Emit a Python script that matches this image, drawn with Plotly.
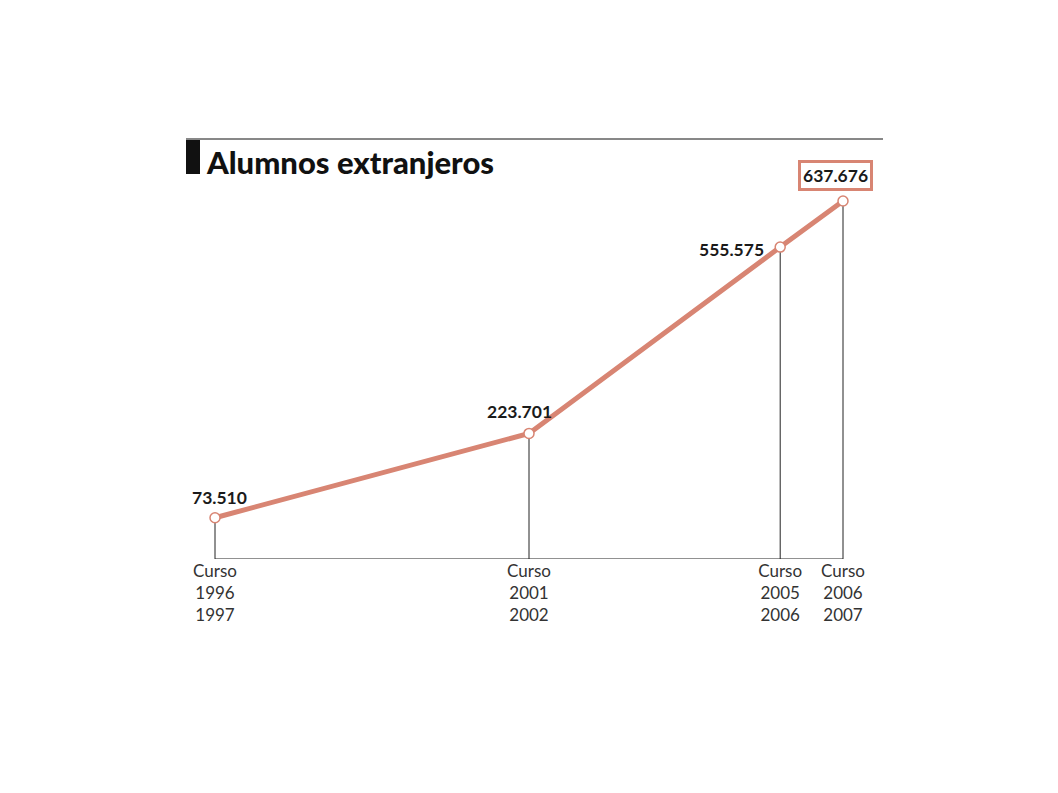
import plotly.graph_objects as go

years = [1996, 2001, 2005, 2006]
values = [73510, 223701, 555575, 637676]
value_labels = ["73.510", "223.701", "555.575", "637.676"]
tick_labels = ["Curso<br>1996<br>1997", "Curso<br>2001<br>2002", "Curso<br>2005<br>2006", "Curso<br>2006<br>2007"]
title = "Alumnos extranjeros"

SALMON = "#d88573"
FONT = "Lato"

fig = go.Figure()

# drop lines from each point to the baseline
dx, dy = [], []
for x, y in zip(years, values):
    dx += [x, x, None]
    dy += [0, y, None]
fig.add_trace(go.Scatter(x=dx, y=dy, mode="lines", line=dict(color="#222222", width=1),
                         hoverinfo="skip", showlegend=False, cliponaxis=False))

# main line
fig.add_trace(go.Scatter(x=years, y=values, mode="lines+markers",
                         line=dict(color=SALMON, width=5),
                         marker=dict(size=10, color="white", line=dict(color=SALMON, width=1.5)),
                         showlegend=False, cliponaxis=False))

# baseline
fig.add_shape(type="line", xref="x", yref="y", x0=min(years), x1=max(years), y0=0, y1=0,
              line=dict(color="#222222", width=1))

# value labels
offsets = [
    dict(xanchor="center", yanchor="bottom", xshift=4, yshift=8),
    dict(xanchor="center", yanchor="bottom", xshift=-10, yshift=9),
    dict(xanchor="right", yanchor="middle", xshift=-14, yshift=-2),
    dict(xanchor="center", yanchor="bottom", xshift=-8, yshift=10),
]
for i, (x, y, t) in enumerate(zip(years, values, value_labels)):
    extra = {}
    if i == len(years) - 1:
        extra = dict(bordercolor=SALMON, borderwidth=3, borderpad=2, bgcolor="white")
    fig.add_annotation(x=x, y=y, text="<b>%s</b>" % t, showarrow=False,
                       font=dict(family=FONT, size=17.5, color="#1a1a1a"), **offsets[i], **extra)

# title block
fig.add_shape(type="line", xref="paper", yref="paper", x0=0, x1=1, y0=1, y1=1,
              line=dict(color="#111111", width=1))
fig.add_shape(type="rect", xref="paper", yref="paper", x0=0, x1=0.0201, y0=0.9167, y1=0.9976,
              fillcolor="#111111", line=dict(width=0))
fig.add_annotation(xref="paper", yref="paper", x=0.026, y=0.945, xanchor="left", yanchor="middle",
                   text=title, showarrow=False,
                   font=dict(family=FONT, size=31, color="#111111", weight=900))

fig.update_layout(
    width=1058, height=793,
    margin=dict(l=178, r=183, t=131, b=242, pad=0),
    paper_bgcolor="white", plot_bgcolor="white",
    xaxis=dict(range=[1995.538, 2006.637], tickvals=years, ticktext=tick_labels,
               showgrid=False, zeroline=False, showline=False, ticks="",
               tickfont=dict(family=FONT, size=17, color="#333333")),
    yaxis=dict(range=[0, 748117], visible=False, showgrid=False, zeroline=False),
)

fig.write_html("out.html")
